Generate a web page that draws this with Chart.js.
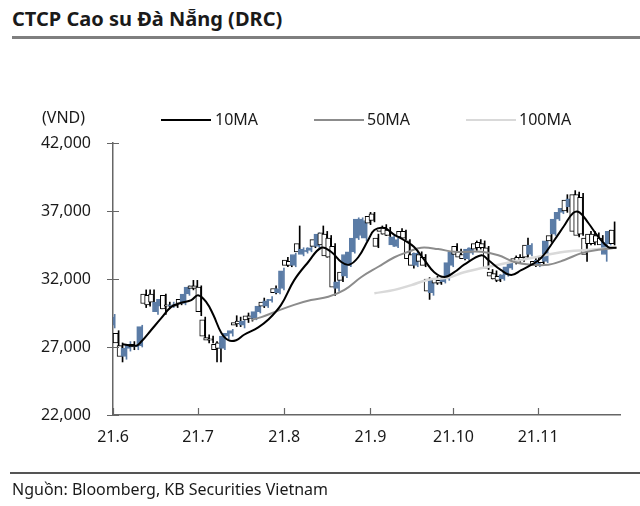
<!DOCTYPE html>
<html><head><meta charset="utf-8">
<script src="https://cdn.jsdelivr.net/npm/chart.js@4.4.1/dist/chart.umd.min.js"></script>
<style>
body{margin:0;width:640px;height:506px;position:relative;overflow:hidden;background:#fff;font-family:'Noto Sans',sans-serif;color:#1a1a1a}
.abs{position:absolute;white-space:nowrap}
.lg{position:absolute;height:2px;width:50px}
</style></head><body>
<div class="abs" style="left:12px;top:5px;font-weight:bold;font-size:20px;line-height:28px">CTCP Cao su Đà Nẵng (DRC)</div>
<div class="abs" style="left:12px;right:0;top:36px;height:3px;background:#7f7f7f"></div>
<canvas id="c" width="640" height="506" style="position:absolute;left:0;top:0"></canvas>
<div class="abs" style="left:42px;top:106px;font-size:16px;line-height:22px">(VND)</div>
<div class="lg" style="left:161px;top:119px;background:#000"></div>
<div class="abs" style="left:215px;top:108px;font-size:16px;line-height:22px">10MA</div>
<div class="lg" style="left:314px;top:119px;background:#8c8c8c"></div>
<div class="abs" style="left:367px;top:108px;font-size:16px;line-height:22px">50MA</div>
<div class="lg" style="left:466px;top:119px;background:#d9d9d9"></div>
<div class="abs" style="left:519px;top:108px;font-size:16px;line-height:22px">100MA</div>
<div class="abs" style="left:10px;right:0;top:472px;height:1.5px;background:#555"></div>
<div class="abs" style="left:12px;top:478px;font-size:16px;line-height:22px">Nguồn: Bloomberg, KB Securities Vietnam</div>
<script>
// Month labels and their positions on the trading-day index axis
const monthLabels = ['21.6','21.7','21.8','21.9','21.10','21.11'];
const monthPos = [-0.3, 21.3, 43.2, 65.1, 86.2, 107.7];
const yTicks = [22000, 27000, 32000, 37000, 42000];

// Daily OHLC (VND), trading days from 1 Jun 2021
const open = [28600,28000,27100,26300,26900,27200,27000,27100,30900,30800,30900,29600,30000,30800,30100,30000,30100,30500,30200,30900,31500,31500,
31400,29000,27700,27600,27200,27300,26900,27800,28000,28800,28900,28600,29300,29300,29100,29600,30300,30000,30400,31300,31000,31300,
33400,33300,33000,34600,33800,34000,34100,34900,34400,35400,35300,35000,34400,31300,32500,32200,33000,34000,35000,35200,35000,36600,
36800,35000,35600,35800,35600,34500,34400,35500,35500,34800,33800,33000,33800,33600,32000,31000,32000,31900,31800,32000,33000,
34400,34000,33800,33500,33900,34600,34700,34600,34300,32500,32400,32200,32000,32300,32800,33500,33600,33600,34500,33800,33300,
33000,33600,33300,35200,35300,36400,36900,37800,37300,38200,38200,38000,35000,35300,35300,35200,35000,33800,34600,35600];
const high = [29400,28200,27300,27000,27400,27400,27300,28600,31200,31200,31200,30400,30700,30900,30300,30300,30300,30800,31000,31500,31900,31900,
31500,29200,27900,27800,27400,27500,27900,28100,28300,29300,29200,29000,29500,29500,29700,30100,30600,30500,30700,31500,31400,32800,
33600,33500,33900,35900,34300,34300,34400,35100,35400,35900,35500,35200,34600,32000,32700,33900,34100,35100,36500,36500,36400,36900,
36900,35300,35900,36000,35800,35200,35000,35700,35600,34900,33900,34000,34000,33800,32100,32000,32200,32100,32100,33300,34100,
34600,34200,34000,34300,34400,34800,34900,34800,34400,32700,32600,32300,32400,33000,33300,33700,33800,33800,35000,34600,33500,
33500,33800,34900,35400,36500,37000,37300,38200,38000,38500,38400,38300,35200,35500,35500,35400,35200,34800,35600,36200];
const low = [28400,27000,25900,26100,26700,26800,26800,27000,29900,30000,30100,29400,29800,29400,29900,29900,29900,30100,30100,30800,31200,31200,
29300,27600,27300,27300,25900,25900,26800,27600,27800,28500,28500,28400,28800,28900,29000,29500,29900,29900,30300,30900,30900,31200,
32900,32900,32900,33900,33700,33900,34000,34300,34300,34400,33600,33500,30800,31100,31800,32100,32900,33900,34900,35100,34800,36000,
36200,34300,35300,35200,35000,34400,34300,35000,34900,33400,32800,32900,33200,32900,30500,30800,31600,31600,31700,31900,32900,
33700,33500,33400,33400,33800,34100,34200,34200,32700,32000,31800,31800,31900,32200,32700,33100,33200,33300,33500,33700,32900,
32900,33100,33200,34700,35200,36300,36800,36900,37200,35400,35100,35200,33300,34500,34500,34600,34400,33300,34500,34500];
const close = [29200,27300,26300,26900,27200,27000,27100,28500,30200,30100,30300,30300,30500,29800,30000,30100,30000,30200,30900,31400,31300,31300,
29600,27800,27500,27500,26800,26900,27800,28000,28200,28600,28700,28900,29000,29100,29600,30000,30000,30400,30500,31000,31300,32600,
33000,33000,33800,34000,34200,34100,34300,34400,35300,34500,33700,33600,31400,31800,31900,33800,34000,35000,36400,36400,36300,36100,
36300,34400,35500,35300,35200,35100,34900,35100,35000,33500,33000,33900,33300,33000,31100,31900,31700,31700,32000,33200,34000,
33800,33600,33500,34200,34300,34200,34300,34300,32800,32200,32000,31900,32300,32900,33200,33200,33300,33400,33600,34500,33000,
33400,33200,34800,34800,36400,36900,37200,37000,37900,35500,35200,35300,33800,34600,34600,34700,34500,34700,35500,34600];

// Moving averages (day index, VND)
const ma10X = [2.0,5.6,6.9,9.4,11.9,14.5,17.0,19.6,21.3,23.4,25.2,27.2,29.0,31.0,33.0,36.6,39.1,42.4,45.7,49.3,52.6,55.1,57.7,59.7,62.0,64.5,66.1,68.6,71.2,73.7,76.2,78.8,81.3,83.9,86.4,88.9,93.3,95.0,98.3,100.9,103.4,106.0,108.5,111.8,114.4,116.6,118.2,120.5,123.0,125.5,127.6];
const ma10Y = [27200,27100,27400,28250,29100,29950,30250,30450,30800,30300,29350,28050,27500,27500,27900,28450,29000,30100,31900,33250,34300,34000,33250,33050,33600,34850,35600,35750,35250,34850,34350,33400,32500,32150,32500,33050,33750,33400,32650,32300,32650,33050,33550,34850,35950,36850,36900,36100,35100,34350,34300];
const ma50X = [35.0,37.4,41.0,45.7,50.0,54.4,58.5,62.8,67.1,71.2,74.7,78.0,82.3,86.4,93.3,97.6,101.7,106.0,110.3,114.4,118.7,123.0,127.6];
const ma50Y = [29000,29200,29600,30100,30450,30700,31200,32150,32900,33600,34000,34300,34200,34000,34000,33750,33250,33050,33050,33400,33900,34150,34300];
const ma100X = [66.1,71.2,75.5,79.8,84.9,88.9,97.6,106.0,114.4,123.0,127.6];
const ma100Y = [30950,31200,31550,31950,32100,32500,33050,33550,34000,34200,34300];

const BLUE = '#5b7ca6';
const up = close.map((c,i)=>c>=open[i]);
const pts = (xs, ys) => xs.map((x,i)=>({x, y: ys[i]}));

const tickPlugin = {
  id:'tickMarks',
  afterDraw(chart){
    const {ctx, chartArea:a, scales:{x,y}} = chart;
    ctx.save(); ctx.strokeStyle='#666'; ctx.lineWidth=1.2;
    ctx.beginPath();
    yTicks.forEach(v=>{const py=Math.round(y.getPixelForValue(v))+0.5; ctx.moveTo(a.left-6,py); ctx.lineTo(a.left+6,py);});
    monthPos.forEach(v=>{const px=Math.round(x.getPixelForValue(v))+0.5; ctx.moveTo(px,a.bottom); ctx.lineTo(px,a.bottom-7);});
    ctx.stroke(); ctx.restore();
  }
};

new Chart(document.getElementById('c'), {
  type:'bar',
  data:{
    datasets:[
      {type:'line', label:'10MA', data:pts(ma10X,ma10Y), borderColor:'#000', borderWidth:2, pointRadius:0, tension:0.4, order:1},
      {type:'line', label:'50MA', data:pts(ma50X,ma50Y), borderColor:'#8c8c8c', borderWidth:2, pointRadius:0, tension:0.4, order:1},
      {type:'line', label:'100MA', data:pts(ma100X,ma100Y), borderColor:'#d9d9d9', borderWidth:2.5, pointRadius:0, tension:0.4, order:1},
      {label:'body', data:open.map((o,i)=>({x:i, y:[Math.min(o,close[i]), Math.max(o,close[i])]})),
        backgroundColor:c=>up[c.dataIndex]?BLUE:'#fff', borderColor:c=>up[c.dataIndex]?BLUE:'#000',
        borderWidth:1, borderSkipped:false, barThickness:5, order:2},
      {label:'wick', data:high.map((h,i)=>({x:i, y:[low[i], h]})),
        backgroundColor:c=>up[c.dataIndex]?BLUE:'#000', barThickness:1, order:3}
    ]
  },
  options:{
    responsive:false, animation:false, devicePixelRatio:1,
    layout:{padding:{left:0, right:20, top:143, bottom:51}},
    plugins:{legend:{display:false}, tooltip:{enabled:false}},
    scales:{
      x:{type:'linear', min:-0.3, max:128.5, offset:false,
        grid:{display:false, drawTicks:false, offset:false},
        border:{display:true, color:'#666', width:1.5},
        afterBuildTicks:s=>{s.ticks = monthPos.map(v=>({value:v}));},
        afterFit:s=>{s.height=40;},
        ticks:{autoSkip:false, maxRotation:0, padding:13, color:'#1a1a1a', font:{family:'Noto Sans', size:16},
          callback:(v,i)=>monthLabels[i]}
      },
      y:{min:22000, max:42000,
        grid:{display:false, drawTicks:false},
        border:{display:true, color:'#666', width:1.5},
        afterBuildTicks:s=>{s.ticks = yTicks.map(v=>({value:v}));},
        afterFit:s=>{s.width=113;},
        ticks:{padding:22, color:'#1a1a1a', font:{family:'Noto Sans', size:16},
          callback:v=>v.toLocaleString('en-US')}
      }
    }
  },
  plugins:[tickPlugin]
});
</script>
</body></html>
